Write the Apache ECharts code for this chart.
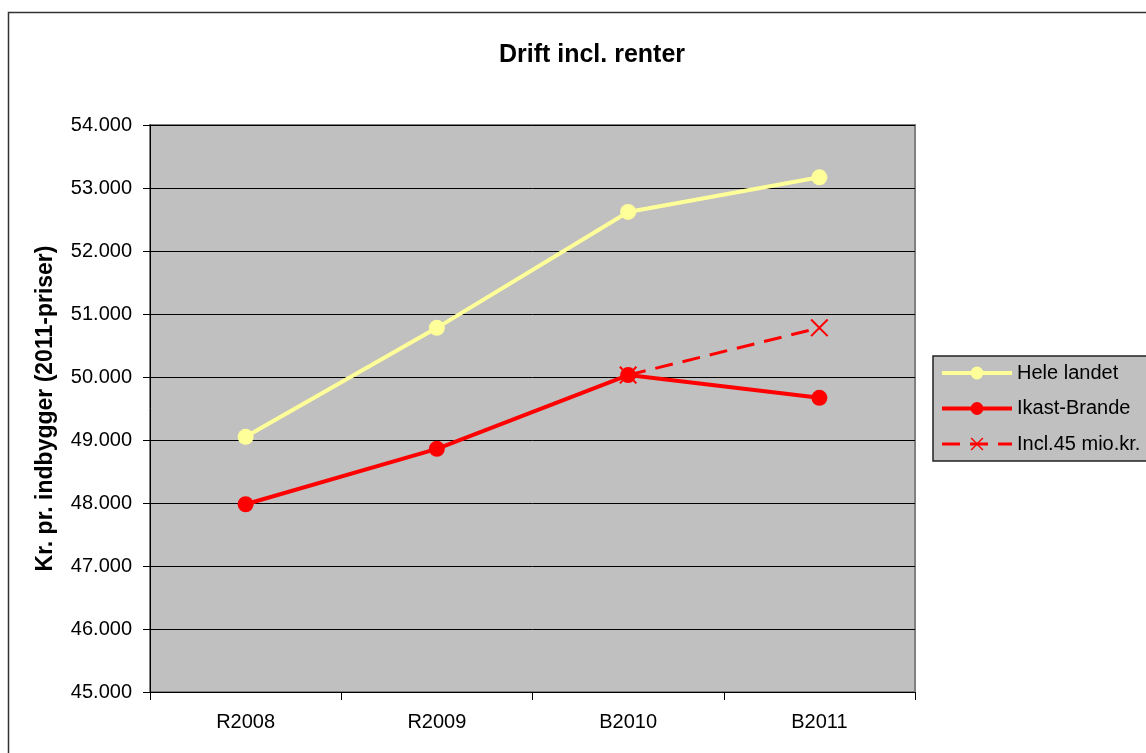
<!DOCTYPE html>
<html>
<head>
<meta charset="utf-8">
<script src="https://cdn.jsdelivr.net/npm/echarts@6/dist/echarts.min.js"></script>
<style>
html,body{margin:0;padding:0;background:#fff;}
#c{width:1146px;height:753px;}
</style>
</head>
<body>
<div id="c"></div>
<script>
const categories = ['R2008', 'R2009', 'B2010', 'B2011'];
const heleLandet = [49050, 50780, 52620, 53170];
const ikastBrande = [47980, 48860, 50030, 49670];
const incl45 = [null, null, 50030, 50780];
const seriesNames = ['Hele landet', 'Ikast-Brande', 'Incl.45 mio.kr.'];
const chartTitle = 'Drift incl. renter';
const yAxisName = 'Kr. pr. indbygger (2011-priser)';

const FONT = 'Liberation Sans, Arial, sans-serif';
const xPath = 'path://M0,0.8 L0.8,0 L10,9.2 L9.2,10 Z M9.2,0 L10,0.8 L0.8,10 L0,9.2 Z';

const chart = echarts.init(document.getElementById('c'));
chart.setOption({
  animation: false,
  backgroundColor: '#ffffff',
  textStyle: { fontFamily: FONT },
  graphic: [{
    type: 'rect', z: -10, silent: true,
    shape: { x: 8.5, y: 12.5, width: 1200, height: 800 },
    style: { fill: 'none', stroke: '#333333', lineWidth: 1.5 }
  }],
  title: {
    text: chartTitle, left: 587, top: 38, textAlign: 'center',
    textStyle: { fontFamily: FONT, fontSize: 25, fontWeight: 'bold', color: '#000' }
  },
  legend: {
    orient: 'vertical', left: 933, top: 356,
    padding: [7, 60, 7, 7],
    itemWidth: 70, itemHeight: 16, itemGap: 15.5,
    backgroundColor: '#C0C0C0', borderColor: '#222', borderWidth: 1.5,
    textStyle: { fontFamily: FONT, fontSize: 20, color: '#000' },
    lineStyle: { width: 4 },
    data: [
      { name: seriesNames[0] },
      { name: seriesNames[1] },
      { name: seriesNames[2], lineStyle: { width: 3 } }
    ]
  },
  grid: {
    left: 150, right: 231, top: 125, bottom: 61,
    show: true, backgroundColor: '#C0C0C0', borderColor: '#808080', borderWidth: 2
  },
  xAxis: {
    type: 'category', data: categories, boundaryGap: true,
    axisLine: { lineStyle: { color: '#000', width: 1 } },
    axisTick: { show: true, length: 8, inside: false, lineStyle: { color: '#000' } },
    axisLabel: { fontFamily: FONT, fontSize: 20, color: '#000', margin: 20 },
    splitLine: { show: false }
  },
  yAxis: {
    type: 'value', min: 45000, max: 54000, interval: 1000,
    name: yAxisName, nameLocation: 'middle', nameRotate: 90, nameGap: 93,
    nameTextStyle: { fontFamily: FONT, fontSize: 23, fontWeight: 'bold', color: '#000' },
    axisLine: { show: true, lineStyle: { color: '#000', width: 1 } },
    axisTick: { show: true, length: 7, lineStyle: { color: '#000' } },
    axisLabel: {
      fontFamily: FONT, fontSize: 20, color: '#000', margin: 18,
      formatter: v => (v / 1000).toFixed(3)
    },
    splitLine: { show: true, lineStyle: { color: '#000', width: 1 } }
  },
  series: [
    {
      name: seriesNames[0], type: 'line', data: heleLandet, z: 3,
      symbol: 'circle', symbolSize: 16,
      lineStyle: { color: '#FFFF99', width: 4 },
      itemStyle: { color: '#FFFF99' }
    },
    {
      name: seriesNames[1], type: 'line', data: ikastBrande, z: 4,
      symbol: 'circle', symbolSize: 16,
      lineStyle: { color: '#FF0000', width: 4 },
      itemStyle: { color: '#FF0000' }
    },
    {
      name: seriesNames[2], type: 'line', data: incl45, z: 2,
      symbol: xPath, symbolSize: 18, connectNulls: false,
      lineStyle: { color: '#FF0000', width: 3, type: [18, 10] },
      itemStyle: { color: '#FF0000' }
    }
  ]
});
</script>
</body>
</html>
